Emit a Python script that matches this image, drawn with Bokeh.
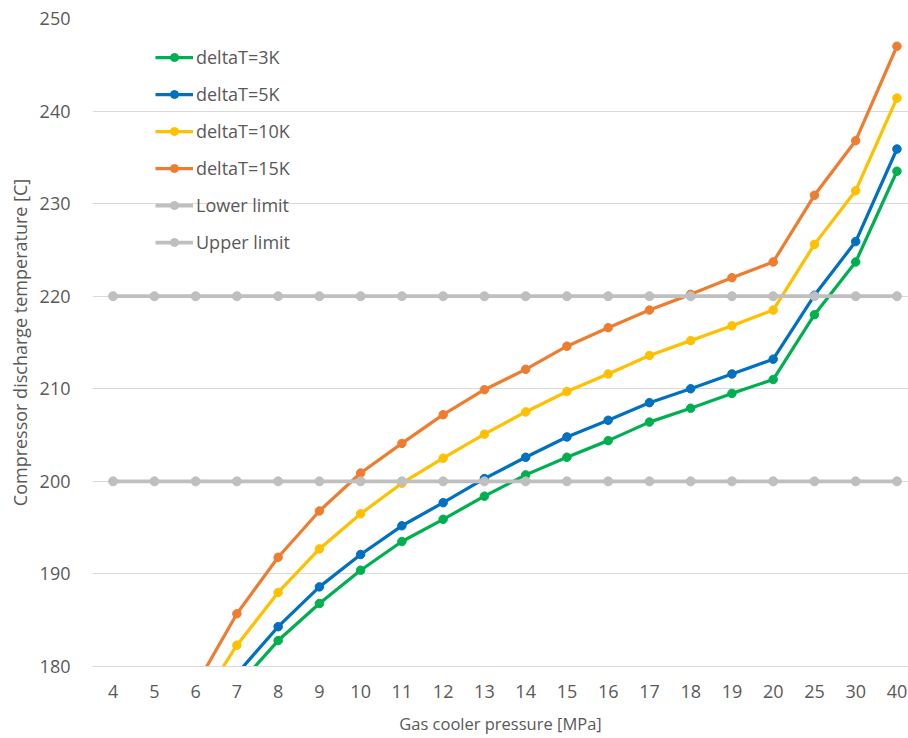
from bokeh.plotting import figure
from bokeh.models import Range1d, FixedTicker, Legend, LegendItem
from bokeh.embed import file_html
from bokeh.resources import INLINE

nan = float("nan")

pressure = ["4", "5", "6", "7", "8", "9", "10", "11", "12", "13", "14",
            "15", "16", "17", "18", "19", "20", "25", "30", "40"]
dt3 = [nan, nan, nan, 177.8, 182.8, 186.8, 190.4, 193.5, 195.9, 198.4, 200.7,
       202.6, 204.4, 206.4, 207.9, 209.5, 211.0, 218.0, 223.7, 233.5]
dt5 = [nan, nan, nan, 179.2, 184.3, 188.6, 192.1, 195.2, 197.7, 200.3, 202.6,
       204.8, 206.6, 208.5, 210.0, 211.6, 213.2, 220.1, 225.9, 235.9]
dt10 = [nan, nan, 175.3, 182.3, 188.0, 192.7, 196.5, 199.8, 202.5, 205.1, 207.5,
        209.7, 211.6, 213.6, 215.2, 216.8, 218.5, 225.6, 231.4, 241.4]
dt15 = [nan, nan, 177.9, 185.7, 191.8, 196.8, 200.9, 204.1, 207.2, 209.9, 212.1,
        214.6, 216.6, 218.5, 220.2, 222.0, 223.7, 230.9, 236.8, 247.0]
lower_limit = [200] * 20
upper_limit = [220] * 20
y_ticks = [180, 190, 200, 210, 220, 230, 240, 250]

series = [
    ("deltaT=3K", dt3, "#00B050"),
    ("deltaT=5K", dt5, "#0070C0"),
    ("deltaT=10K", dt10, "#FFC000"),
    ("deltaT=15K", dt15, "#ED7D31"),
    ("Lower limit", lower_limit, "#BFBFBF"),
    ("Upper limit", upper_limit, "#BFBFBF"),
]

xs = list(range(len(pressure)))
TEXT = "#595959"
FONT = "Open Sans"

p = figure(width=908, height=738, output_backend="svg", toolbar_location=None,
           x_range=Range1d(-0.5, 19.28), y_range=Range1d(180, 250),
           min_border_left=92, min_border_right=0, min_border_top=18,
           min_border_bottom=72)
p.outline_line_color = None
p.background_fill_color = "white"
p.border_fill_color = "white"
p.xgrid.visible = False
p.ygrid.grid_line_color = "#D9D9D9"
p.ygrid.grid_line_width = 1

p.yaxis.ticker = FixedTicker(ticks=y_ticks)
p.yaxis.axis_line_color = None
p.yaxis.major_tick_line_color = None
p.yaxis.minor_tick_line_color = None
p.yaxis.major_tick_out = 0
p.yaxis.major_tick_in = 0
p.yaxis.major_label_standoff = 22
p.yaxis.axis_label = "Compressor discharge temperature [C]"
p.yaxis.axis_label_standoff = 5
p.yaxis.axis_label_text_font_size = "18px"

p.xaxis.ticker = FixedTicker(ticks=xs)
p.xaxis.major_label_overrides = {i: s for i, s in enumerate(pressure)}
p.xaxis.axis_line_color = "#D9D9D9"
p.xaxis.major_tick_line_color = None
p.xaxis.minor_tick_line_color = None
p.xaxis.major_tick_out = 0
p.xaxis.major_tick_in = 0
p.xaxis.major_label_standoff = 18
p.xaxis.axis_label = "Gas cooler pressure [MPa]"
p.xaxis.axis_label_standoff = 11
p.xaxis.axis_label_text_font_size = "16.5px"

for ax in (p.xaxis, p.yaxis):
    ax.major_label_text_font = FONT
    ax.major_label_text_font_size = "18px"
    ax.major_label_text_color = TEXT
    ax.axis_label_text_font = FONT
    ax.axis_label_text_font_style = "normal"
    ax.axis_label_text_color = TEXT

items = []
for name, vals, color in series:
    gray = color == "#BFBFBF"
    lw = 3.75 if gray else 3.25
    sz = 9 if gray else 8.5
    ln = p.line(xs, vals, line_color=color, line_width=lw)
    sc = p.scatter(xs, vals, marker="circle", size=sz, fill_color=color,
                   line_color=color)
    items.append(LegendItem(label=name, renderers=[ln, sc]))

legend = Legend(items=items, location=(63, 412), padding=0, margin=0,
                spacing=13, glyph_width=38, glyph_height=20, label_height=20,
                label_standoff=3, label_text_font=FONT,
                label_text_font_size="18px", label_text_color=TEXT,
                border_line_color=None, background_fill_alpha=0)
p.add_layout(legend)

open("out.html", "w").write(file_html(p, INLINE))
